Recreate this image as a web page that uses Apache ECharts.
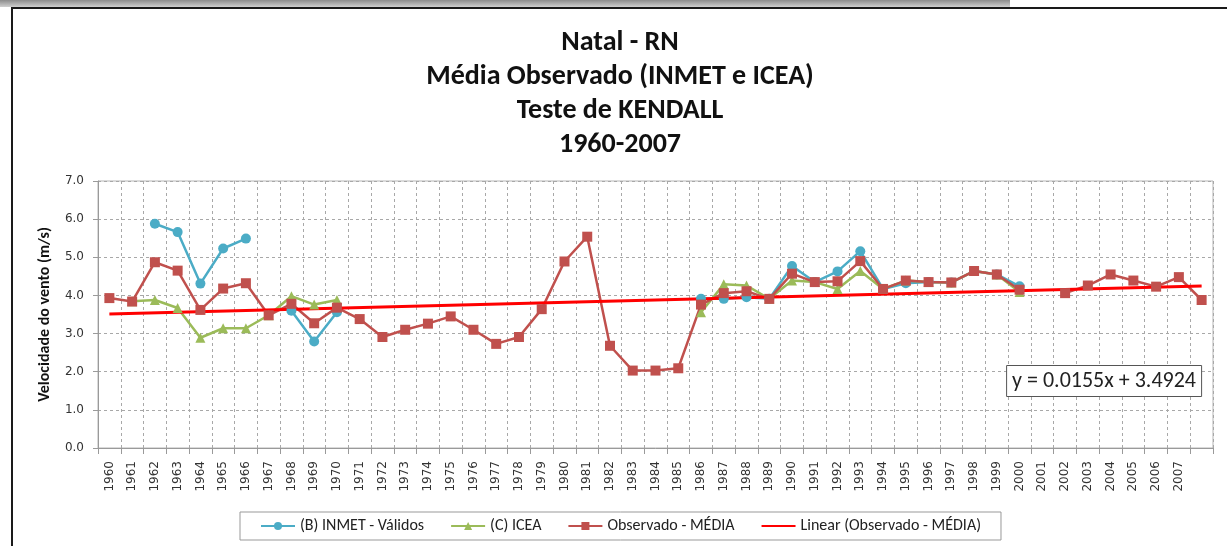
<!DOCTYPE html>
<html>
<head>
<meta charset="utf-8">
<script src="https://cdn.jsdelivr.net/npm/echarts@6/dist/echarts.min.js"></script>
<style>
  html, body { margin: 0; padding: 0; background: #fff; }
  #chart { width: 1227px; height: 546px; }
</style>
</head>
<body>
<div id="chart"></div>
<script>
  // anos (a última categoria não tem rótulo no gráfico original)
  var years = ['1960','1961','1962','1963','1964','1965','1966','1967','1968','1969',
    '1970','1971','1972','1973','1974','1975','1976','1977','1978','1979',
    '1980','1981','1982','1983','1984','1985','1986','1987','1988','1989',
    '1990','1991','1992','1993','1994','1995','1996','1997','1998','1999',
    '2000','2001','2002','2003','2004','2005','2006','2007','']

  // (B) INMET - Válidos
  var inmet = [null, null, 5.88, 5.66, 4.31, 5.23, 5.49, null, 3.60, 2.79,
    3.56, null, null, null, null, null, null, null, null, null,
    null, null, null, null, null, null, 3.91, 3.91, 3.95, 3.91,
    4.77, 4.35, 4.63, 5.16, 4.17, 4.32, 4.35, 4.34, 4.64, 4.55,
    4.24, null, null, null, null, null, null, null, null]

  // (C) ICEA
  var icea = [null, 3.85, 3.88, 3.67, 2.89, 3.14, 3.14, 3.48, 3.98, 3.76,
    3.88, null, null, null, null, null, null, null, null, null,
    null, null, null, null, null, null, 3.56, 4.29, 4.26, 3.91,
    4.39, 4.35, 4.17, 4.64, 4.17, 4.39, 4.35, 4.34, 4.64, 4.55,
    4.09, null, null, null, null, null, null, null, null]

  // Observado - MÉDIA
  var media = [3.93, 3.84, 4.87, 4.65, 3.62, 4.18, 4.32, 3.48, 3.78, 3.27,
    3.68, 3.38, 2.91, 3.10, 3.26, 3.45, 3.10, 2.73, 2.91, 3.64,
    4.89, 5.54, 2.68, 2.03, 2.03, 2.09, 3.76, 4.06, 4.11, 3.91,
    4.57, 4.35, 4.37, 4.90, 4.17, 4.39, 4.35, 4.34, 4.64, 4.55,
    4.15, null, 4.06, 4.26, 4.55, 4.39, 4.23, 4.48, 3.88]

  // Linear (Observado - MÉDIA): pontas da reta de tendência
  var trendEnds = [[0, 3.51], [48, 4.25]]
  var equation = 'y = 0.0155x + 3.4924'

  var calibri = 'Carlito, "Liberation Sans Narrow", "Open Sans", sans-serif'
  var verdana = '"DejaVu Sans", Verdana, sans-serif'

  var chart = echarts.init(document.getElementById('chart'))
  chart.setOption({
    backgroundColor: '#fff',
    animation: false,
    title: [
      {
        text: 'Natal - RN\nMédia Observado (INMET e ICEA)\nTeste de KENDALL\n1960-2007',
        left: 620,
        top: 26,
        padding: 0,
        textAlign: 'center',
        textStyle: {
          fontFamily: calibri,
          fontWeight: 'bold',
          fontSize: 28,
          lineHeight: 34,
          color: '#111'
        }
      },
      {
        text: equation,
        right: 25,
        top: 365,
        padding: [4, 6],
        borderColor: '#555',
        borderWidth: 1,
        backgroundColor: '#fff',
        textStyle: {
          fontFamily: calibri,
          fontWeight: 'normal',
          fontSize: 22,
          lineHeight: 24,
          color: '#222'
        }
      }
    ],
    graphic: [
      {
        type: 'rect',
        shape: { x: 0, y: 0, width: 1010, height: 7 },
        style: {
          fill: new echarts.graphic.LinearGradient(0, 0, 0, 1, [
            { offset: 0, color: '#8c8c8c' },
            { offset: 1, color: '#cfcfcf' }
          ])
        },
        silent: true
      },
      {
        type: 'line',
        shape: { x1: 11, y1: 8, x2: 1227, y2: 8 },
        style: { stroke: '#1a1a1a', lineWidth: 2 },
        silent: true
      },
      {
        type: 'line',
        shape: { x1: 12, y1: 7, x2: 12, y2: 546 },
        style: { stroke: '#1a1a1a', lineWidth: 2 },
        silent: true
      }
    ],
    legend: {
      bottom: 6,
      left: 240,
      padding: [6, 20],
      borderColor: '#999',
      borderWidth: 1,
      itemGap: 26,
      itemWidth: 34,
      itemHeight: 10,
      textStyle: {
        fontFamily: calibri,
        fontSize: 16,
        color: '#222'
      },
      data: [
        '(B) INMET - Válidos',
        '(C) ICEA',
        'Observado - MÉDIA',
        { name: 'Linear (Observado - MÉDIA)', itemStyle: { opacity: 0 } }
      ]
    },
    grid: {
      left: 98,
      right: 14,
      top: 181,
      bottom: 98,
      show: true,
      borderColor: '#b5b5b5',
      borderWidth: 1
    },
    xAxis: {
      type: 'category',
      data: years,
      boundaryGap: true,
      axisLine: { lineStyle: { color: '#9a9a9a', width: 1 } },
      axisTick: { show: true, length: 6, lineStyle: { color: '#9a9a9a' } },
      axisLabel: {
        rotate: 90,
        interval: 0,
        margin: 13,
        fontFamily: verdana,
        fontSize: 12,
        color: '#333'
      },
      splitLine: {
        show: true,
        interval: 0,
        lineStyle: { color: '#a8a8a8', type: [3, 3], width: 1 }
      }
    },
    yAxis: {
      type: 'value',
      min: 0,
      max: 7,
      interval: 1,
      name: 'Velocidade do vento (m/s)',
      nameLocation: 'middle',
      nameGap: 45,
      nameTextStyle: {
        fontFamily: calibri,
        fontWeight: 'bold',
        fontSize: 16,
        color: '#111'
      },
      axisLine: { show: true, lineStyle: { color: '#9a9a9a' } },
      axisTick: { show: true, length: 5, lineStyle: { color: '#9a9a9a' } },
      axisLabel: {
        margin: 14,
        fontFamily: verdana,
        fontSize: 12,
        color: '#333',
        formatter: function (v) { return v.toFixed(1) }
      },
      splitLine: {
        show: true,
        lineStyle: { color: '#a8a8a8', type: [3, 3], width: 1 }
      }
    },
    series: [
      {
        name: '(B) INMET - Válidos',
        type: 'line',
        data: inmet,
        symbol: 'circle',
        symbolSize: 10,
        lineStyle: { color: '#4BACC6', width: 2.5 },
        itemStyle: { color: '#4BACC6' }
      },
      {
        name: '(C) ICEA',
        type: 'line',
        data: icea,
        symbol: 'triangle',
        symbolSize: 10,
        lineStyle: { color: '#9BBB59', width: 2.5 },
        itemStyle: { color: '#9BBB59' }
      },
      {
        name: 'Observado - MÉDIA',
        type: 'line',
        data: media,
        symbol: 'rect',
        symbolSize: 10,
        lineStyle: { color: '#C0504D', width: 2.5 },
        itemStyle: { color: '#C0504D' }
      },
      {
        name: 'Linear (Observado - MÉDIA)',
        type: 'line',
        data: trendEnds,
        symbol: 'none',
        lineStyle: { color: '#FF0000', width: 3 },
        itemStyle: { color: '#FF0000' }
      }
    ]
  })
</script>
</body>
</html>
